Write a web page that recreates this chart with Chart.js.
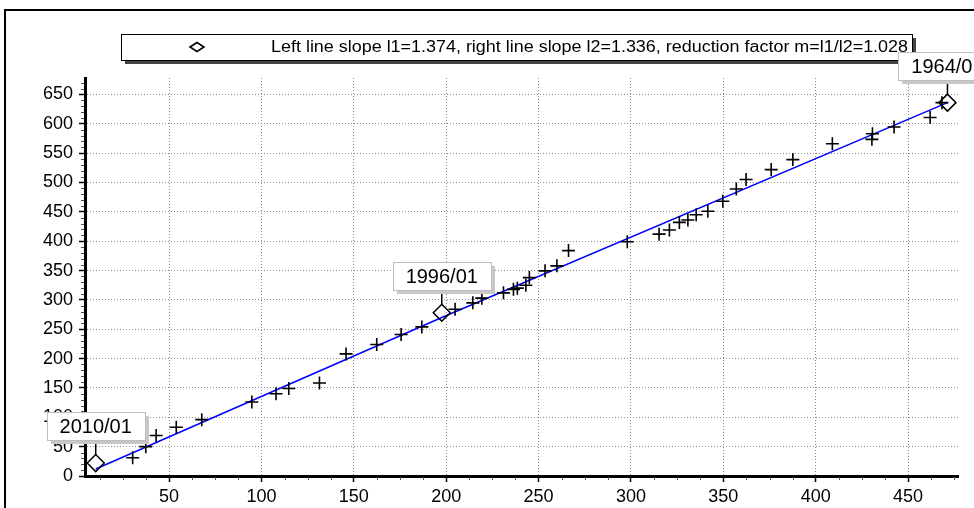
<!DOCTYPE html>
<html>
<head>
<meta charset="utf-8">
<script src="https://cdn.jsdelivr.net/npm/chart.js@4.4.0/dist/chart.umd.min.js"></script>
<style>
  html, body { margin: 0; padding: 0; background: #fff; }
  #c { display: block; }
</style>
</head>
<body>
<canvas id="c" width="974" height="508"></canvas>
<script>
// Measured points (+ markers)
const crossX = [30.3, 37.4, 43, 53.9, 67.7, 94.8, 107.9, 114.8, 131.4, 145.8, 162.4, 175.6, 186.8,
  204.8, 214.4, 219.3, 231, 236.4, 238.5, 243.1, 245, 253.5, 259.9, 266.2, 298,
  315.2, 320.8, 326.2, 330.8, 335.3, 341.6, 349.7, 357, 362.3, 375.9, 387.6, 409,
  430.4, 430.7, 442.4, 461.9, 468.3];
const crossY = [31, 50, 69, 83, 96, 126, 140, 149, 158.5, 208, 224, 241, 254,
  284, 295, 303, 312, 318, 320, 325, 338, 349.5, 358, 384, 399,
  412, 419, 432, 436, 445, 451, 468, 489, 505, 522, 539, 566,
  573.5, 583, 594.6, 610.6, 636];

// Break points (diamonds) with their date labels
const breakLabels = ['2010/01', '1996/01', '1964/01'];
const breakX = [10.3, 197.6, 471.3];
const breakY = [22, 278, 636];

// Two-segment fitted line (slopes l1, l2)
const fitX = [10.3, 197.6, 471.3];
const fitY = [12, 270, 636];

const legendText = 'Left line slope l1=1.374, right line slope l2=1.336, reduction factor m=l1/l2=1.028';

const xTicks = [50, 100, 150, 200, 250, 300, 350, 400, 450];
const yTicks = [0, 50, 100, 150, 200, 250, 300, 350, 400, 450, 500, 550, 600, 650];

const FONT = '"Liberation Sans", Arial, sans-serif';
const pts = (xs, ys) => xs.map((x, i) => ({ x, y: ys[i] }));

// Frame, minor ticks, legend box and the date callouts.
const decor = {
  id: 'decor',
  beforeDraw(chart) {
    const ctx = chart.ctx;
    ctx.save();
    ctx.fillStyle = '#fff';
    ctx.fillRect(0, 0, chart.width, chart.height);
    ctx.strokeStyle = '#000';
    ctx.lineWidth = 2;
    ctx.strokeRect(5, 10, 1200, 1000);
    ctx.restore();
  },
  afterDraw(chart) {
    const ctx = chart.ctx;
    const { left, bottom } = chart.chartArea;
    const xs = chart.scales.x, ys = chart.scales.y;
    ctx.save();

    // minor ticks
    ctx.strokeStyle = '#555';
    ctx.lineWidth = 1;
    ctx.beginPath();
    for (let v = 10; v < ys.max; v += 10) {
      if (v % 50 === 0) continue;
      const py = Math.round(ys.getPixelForValue(v)) + 0.5;
      ctx.moveTo(left - 4, py); ctx.lineTo(left - 1, py);
    }
    for (let v = 12.5; v < xs.max; v += 12.5) {
      if (v % 50 === 0 || v < xs.min) continue;
      const px = Math.round(xs.getPixelForValue(v)) + 0.5;
      ctx.moveTo(px, bottom + 1); ctx.lineTo(px, bottom + 4);
    }
    ctx.stroke();

    // legend box
    const lx = 121, ly = 34, lw = 791, lh = 26;
    ctx.fillStyle = '#444';
    ctx.fillRect(lx + 4, ly + 4, lw, lh);
    ctx.fillStyle = '#fff';
    ctx.fillRect(lx, ly, lw, lh);
    ctx.strokeStyle = '#000';
    ctx.lineWidth = 1;
    ctx.strokeRect(lx + 0.5, ly + 0.5, lw, lh);
    // legend diamond
    const dx = 197, dy = 47;
    ctx.lineWidth = 1.5;
    ctx.beginPath();
    ctx.moveTo(dx - 7, dy); ctx.lineTo(dx, dy - 4.5); ctx.lineTo(dx + 7, dy); ctx.lineTo(dx, dy + 4.5);
    ctx.closePath();
    ctx.stroke();
    // legend text, fitted to the box
    ctx.font = '16px ' + FONT;
    ctx.fillStyle = '#000';
    ctx.textBaseline = 'middle';
    ctx.textAlign = 'left';
    const tw = ctx.measureText(legendText).width;
    const target = 637;
    ctx.save();
    ctx.translate(271, dy + 1);
    ctx.scale(target / tw, 1);
    ctx.fillText(legendText, 0, 0);
    ctx.restore();

    // callouts
    ctx.font = '20px ' + FONT;
    ctx.textAlign = 'center';
    breakLabels.forEach((lab, i) => {
      const px = xs.getPixelForValue(breakX[i]);
      const py = ys.getPixelForValue(breakY[i]);
      const bw = 98, bh = 28;
      const bx = Math.round(px - bw / 2), by = Math.round(py - 23 - bh);
      ctx.strokeStyle = '#000';
      ctx.lineWidth = 1.5;
      ctx.beginPath();
      ctx.moveTo(px, by + bh); ctx.lineTo(px, py - 8);
      ctx.stroke();
      ctx.fillStyle = '#c8c8c8';
      ctx.fillRect(bx + 4, by + 4, bw, bh);
      ctx.fillStyle = '#fff';
      ctx.fillRect(bx, by, bw, bh);
      ctx.strokeStyle = '#bdbdbd';
      ctx.lineWidth = 1;
      ctx.strokeRect(bx + 0.5, by + 0.5, bw, bh);
      ctx.fillStyle = '#000';
      ctx.fillText(lab, px, by + bh / 2 + 1);
    });
    ctx.restore();
  }
};

const keepMajor = list => scale => {
  scale.ticks = list.filter(v => v >= scale.min && v <= scale.max).map(v => ({ value: v }));
};

new Chart(document.getElementById('c'), {
  type: 'scatter',
  data: {
    datasets: [
      {
        label: 'fit',
        data: pts(fitX, fitY),
        showLine: true,
        borderColor: '#0000ff',
        borderWidth: 1.5,
        pointRadius: 0,
        fill: false,
        tension: 0,
        order: 3
      },
      {
        label: 'data',
        data: pts(crossX, crossY),
        pointStyle: 'cross',
        pointRadius: 6.5,
        borderColor: '#000',
        borderWidth: 1.6,
        order: 2
      },
      {
        label: 'breaks',
        data: pts(breakX, breakY),
        pointStyle: 'rectRot',
        pointRadius: 8.5,
        borderColor: '#000',
        backgroundColor: 'rgba(255,255,255,0)',
        borderWidth: 1.5,
        order: 1
      }
    ]
  },
  options: {
    responsive: false,
    animation: false,
    devicePixelRatio: 1,
    layout: { padding: { top: 78, left: 0, right: 16, bottom: 0 } },
    plugins: { legend: { display: false }, tooltip: { enabled: false } },
    scales: {
      x: {
        type: 'linear',
        min: 4.5,
        max: 477,
        afterBuildTicks: keepMajor(xTicks),
        afterFit: s => { s.height = 32; },
        grid: { color: '#8c8c8c', lineWidth: 1, tickLength: 6, tickColor: '#000', tickWidth: 1.5 },
        border: { display: true, color: '#000', width: 3, dash: [1, 2] },
        ticks: { color: '#000', font: { family: FONT, size: 18 }, padding: 4, maxRotation: 0 }
      },
      y: {
        type: 'linear',
        min: 0,
        max: 678,
        afterBuildTicks: keepMajor(yTicks),
        afterFit: s => { s.width = 85; },
        grid: { color: '#8c8c8c', lineWidth: 1, tickLength: 6, tickColor: '#000', tickWidth: 1.5 },
        border: { display: true, color: '#000', width: 3, dash: [1, 2] },
        ticks: { color: '#000', font: { family: FONT, size: 18 }, padding: 6 }
      }
    }
  },
  plugins: [decor]
});
</script>
</body>
</html>
